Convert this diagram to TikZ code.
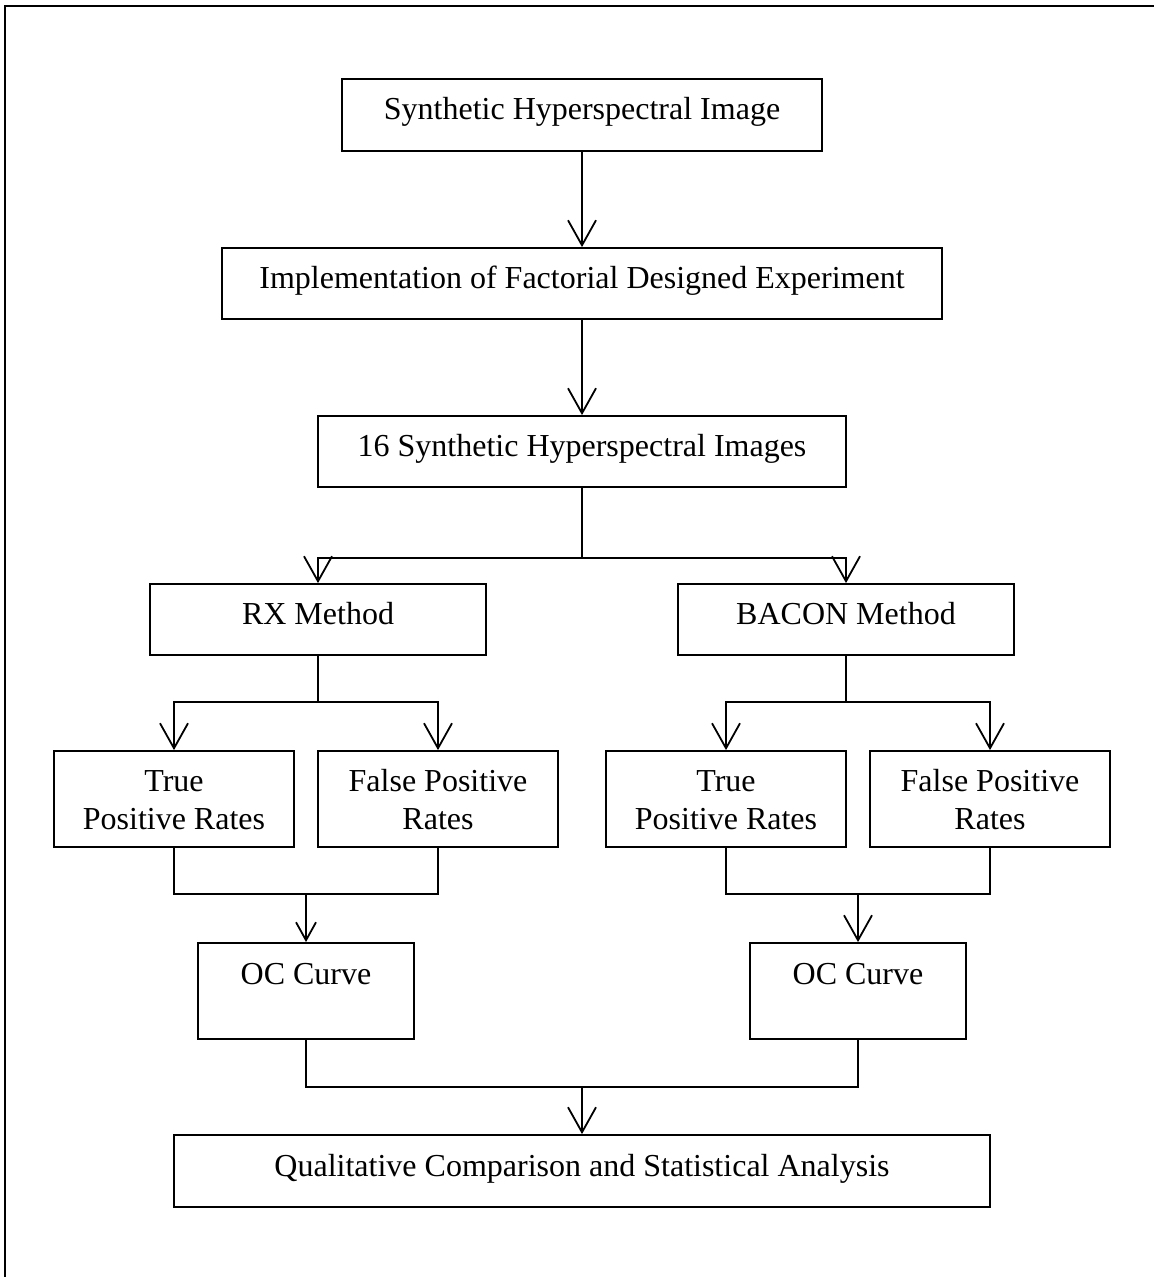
\documentclass[tikz,border=0pt]{standalone}
\usepackage{fontspec}
\setmainfont{Liberation Serif}
\usetikzlibrary{arrows.meta}

\begin{document}
\begin{tikzpicture}[x=0.5pt,y=-0.5pt,
  line width=0.9pt,
  font=\fontsize{16}{19}\selectfont,
  procbox/.style={draw, rectangle, inner sep=0pt, align=center,
    text height=10pt, text depth=5pt},
  tallbox/.style={procbox, text depth=17pt},
  twoline/.style={procbox, text height=35pt, text depth=5pt},
  flow/.style={-{Straight Barb[length=12.5pt,width=14pt,line width=0.9pt]}},
  flowsmall/.style={-{Straight Barb[length=9pt,width=10pt,line width=0.9pt]}}
]
\useasboundingbox (0,0) rectangle (1154,1277);

% outer frame (top and left edges only)
\draw[line width=1pt] (5,1277) -- (5,6) -- (1154,6);

% process boxes
\node[procbox, minimum width=240pt, minimum height=36pt] (syn) at (582,115) {Synthetic Hyperspectral Image};
\node[procbox, minimum width=360pt, minimum height=35.5pt] (impl) at (582,283.5) {Implementation of Factorial Designed Experiment};
\node[procbox, minimum width=264pt, minimum height=35.5pt] (sixteen) at (582,451.5) {16 Synthetic Hyperspectral Images};
\node[procbox, minimum width=168pt, minimum height=35.5pt] (rx) at (318,619.5) {RX Method};
\node[procbox, minimum width=168pt, minimum height=35.5pt] (bacon) at (846,619.5) {BACON Method};

\node[twoline, minimum width=120pt, minimum height=48pt] (tpl) at (174,799) {True\\Positive Rates};
\node[twoline, minimum width=120pt, minimum height=48pt] (fpl) at (438,799) {False Positive\\Rates};
\node[twoline, minimum width=120pt, minimum height=48pt] (tpr) at (726,799) {True\\Positive Rates};
\node[twoline, minimum width=120pt, minimum height=48pt] (fpr) at (990,799) {False Positive\\Rates};

\node[tallbox, minimum width=108pt, minimum height=48pt] (ocl) at (306,991) {OC Curve};
\node[tallbox, minimum width=108pt, minimum height=48pt] (ocr) at (858,991) {OC Curve};

\node[procbox, minimum width=408pt, minimum height=36pt] (qual) at (582,1171) {Qualitative Comparison and Statistical Analysis};

% junction points of the connectors
\coordinate (jm) at (582,558);
\coordinate (jrx) at (318,702);
\coordinate (jbac) at (846,702);
\coordinate (jocl) at (306,894);
\coordinate (jocr) at (858,894);
\coordinate (jq) at (582,1087);

% connectors
\draw[flow] (syn) -- (impl);
\draw[flow] (impl) -- (sixteen);

\draw (sixteen) -- (jm);
\draw[flow] (jm) -| (rx);
\draw[flow] (jm) -| (bacon);

\draw (rx) -- (jrx);
\draw[flow] (jrx) -| (tpl);
\draw[flow] (jrx) -| (fpl);
\draw (bacon) -- (jbac);
\draw[flow] (jbac) -| (tpr);
\draw[flow] (jbac) -| (fpr);

\draw (tpl) |- (jocl) -| (fpl);
\draw[flowsmall] (jocl) -- (ocl);
\draw (tpr) |- (jocr) -| (fpr);
\draw[flow] (jocr) -- (ocr);

\draw (ocl) |- (jq) -| (ocr);
\draw[flow] (jq) -- (qual);
\end{tikzpicture}
\end{document}
